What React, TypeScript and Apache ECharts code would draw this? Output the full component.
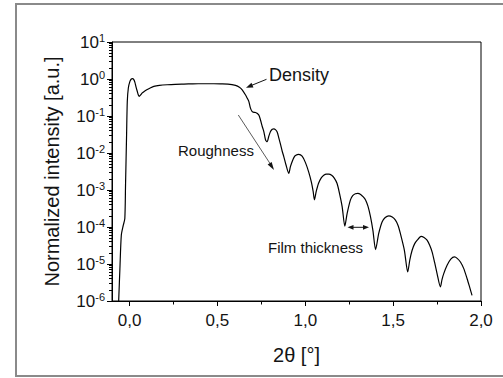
import React, { useEffect, useRef } from 'react';
import * as echarts from 'echarts';

// 2θ (degrees) and normalized intensity
const twoTheta = [
  -0.062, -0.055, -0.047, -0.036, -0.027, -0.023, -0.017, -0.013, -0.007, 0.002,
  0.010, 0.017, 0.024, 0.030, 0.037, 0.044, 0.050, 0.055, 0.063, 0.072,
  0.085, 0.101, 0.120, 0.138, 0.170, 0.214, 0.260, 0.309, 0.360, 0.420,
  0.480, 0.518, 0.560, 0.603, 0.625, 0.641, 0.660, 0.670, 0.679, 0.688,
  0.698, 0.708, 0.717, 0.735, 0.745, 0.755, 0.764, 0.774, 0.783, 0.792,
  0.802, 0.812, 0.821, 0.830, 0.840, 0.850, 0.859, 0.869, 0.878, 0.890,
  0.906, 0.915, 0.925, 0.935, 0.944, 0.963, 0.982, 1.001, 1.020, 1.035,
  1.045, 1.052, 1.062, 1.075, 1.090, 1.105, 1.120, 1.134, 1.150, 1.165,
  1.181, 1.195, 1.210, 1.225, 1.238, 1.257, 1.270, 1.285, 1.299, 1.315,
  1.330, 1.343, 1.357, 1.371, 1.385, 1.400, 1.418, 1.437, 1.455, 1.475,
  1.495, 1.513, 1.528, 1.541, 1.564, 1.583, 1.595, 1.608, 1.622, 1.637,
  1.659, 1.676, 1.693, 1.708, 1.722, 1.736, 1.750, 1.769, 1.778, 1.788,
  1.807, 1.828, 1.849, 1.866, 1.883, 1.902, 1.921, 1.935, 1.949,
];
const intensity = [
  1.0e-6, 7.5e-6, 6e-5, 1.1e-4, 1.7e-4, 1.35e-3, 0.031, 0.245, 0.57, 0.86,
  1.0, 1.02, 0.96, 0.82, 0.6, 0.46, 0.37, 0.34, 0.37, 0.42,
  0.47, 0.52, 0.58, 0.63, 0.67, 0.70, 0.72, 0.73, 0.74, 0.745,
  0.745, 0.74, 0.73, 0.67, 0.6, 0.51, 0.37, 0.3, 0.245, 0.163,
  0.131, 0.125, 0.124, 0.107, 0.078, 0.052, 0.038, 0.0225, 0.0202, 0.028,
  0.038, 0.044, 0.045, 0.043, 0.037, 0.025, 0.017, 0.011, 0.0079, 0.0048,
  0.0028, 0.0042, 0.0058, 0.0075, 0.0085, 0.0092, 0.0082, 0.0055, 0.0030, 0.0016,
  0.0009, 0.00054, 0.0009, 0.0015, 0.0021, 0.0025, 0.0027, 0.0027, 0.0025, 0.0021,
  0.0015, 0.0008, 0.00035, 0.000105, 2.3e-4, 5.4e-4, 7e-4, 7.9e-4, 8.1e-4, 7.6e-4,
  6.5e-4, 5.4e-4, 3.6e-4, 1.9e-4, 8e-5, 2.45e-5, 6.7e-5, 1.37e-4, 1.8e-4, 2.0e-4,
  1.85e-4, 1.53e-4, 1.1e-4, 6.7e-5, 2.35e-5, 6.1e-6, 1.3e-5, 2.35e-5, 3.5e-5, 4.4e-5,
  5.6e-5, 5.2e-5, 4.4e-5, 3.2e-5, 2.1e-5, 1.1e-5, 5.5e-6, 2.4e-6, 3.8e-6, 5.5e-6,
  9.2e-6, 1.35e-5, 1.55e-5, 1.4e-5, 1.13e-5, 7.5e-6, 4.0e-6, 2.4e-6, 1.42e-6,
];

const xLabelTicks = [0, 0.5, 1.0, 1.5, 2.0];
const xMinorTicks = [0.25, 0.75, 1.25, 1.75];
const decadeExponents = [-6, -5, -4, -3, -2, -1, 0];
const minorMultipliers = [2, 3, 4, 5, 6, 7, 8, 9];

const xTitle = '2θ [°]';
const yTitle = 'Normalized intensity [a.u.]';
const densityLabel = 'Density';
const roughnessLabel = 'Roughness';
const thicknessLabel = 'Film thickness';

const FONT = '"Liberation Sans", Arial, Helvetica, sans-serif';
const INK = '#141414';

function arrowHead(tipX: number, tipY: number, fromX: number, fromY: number, len: number, halfW: number) {
  const dx = tipX - fromX;
  const dy = tipY - fromY;
  const d = Math.hypot(dx, dy);
  const ux = dx / d;
  const uy = dy / d;
  const bx = tipX - ux * len;
  const by = tipY - uy * len;
  const px = -uy;
  const py = ux;
  return {
    type: 'polygon',
    silent: true,
    z: 100,
    shape: {
      points: [
        [tipX, tipY],
        [bx + px * halfW, by + py * halfW],
        [bx - px * halfW, by - py * halfW],
      ],
    },
    style: { fill: INK },
  };
}

export default function App() {
  const ref = useRef<HTMLDivElement>(null);

  useEffect(() => {
    if (!ref.current) return;
    const chart = echarts.init(ref.current, null, { renderer: 'svg' });

    const yMinor: number[] = [];
    decadeExponents.forEach((n) => {
      minorMultipliers.forEach((k) => yMinor.push(n + Math.log10(k)));
    });

    const data = twoTheta.map((x, i) => [x, intensity[i]]);

    const option: any = {
      animation: false,
      backgroundColor: '#ffffff',
      grid: {
        left: 112,
        right: 22,
        top: 42,
        bottom: 77,
        show: true,
        borderColor: '#000',
        borderWidth: 1,
        backgroundColor: 'transparent',
        containLabel: false,
        outerBoundsMode: 'none',
      },
      xAxis: [
        {
          type: 'value',
          min: -0.1,
          max: 2.0,
          position: 'bottom',
          name: xTitle,
          nameLocation: 'middle',
          nameGap: 44,
          nameTextStyle: { fontSize: 20, fontFamily: FONT, color: INK },
          axisLine: { show: true, onZero: false, lineStyle: { color: '#000', width: 1 } },
          axisTick: { show: true, length: 5, inside: false, customValues: xLabelTicks, lineStyle: { color: '#000' } },
          axisLabel: {
            show: true,
            customValues: xLabelTicks,
            margin: 11,
            fontSize: 17,
            fontFamily: FONT,
            color: INK,
            formatter: (v: number) => v.toFixed(1).replace('.', ','),
          },
          splitLine: { show: false },
        },
        {
          type: 'value',
          min: -0.1,
          max: 2.0,
          position: 'bottom',
          axisLine: { show: false, onZero: false },
          axisTick: { show: true, length: 3.5, inside: false, customValues: xMinorTicks, lineStyle: { color: '#000' } },
          axisLabel: { show: false },
          splitLine: { show: false },
        },
      ],
      yAxis: [
        {
          type: 'log',
          logBase: 10,
          min: 1e-6,
          max: 10,
          interval: 1,
          splitNumber: 7,
          position: 'left',
          name: yTitle,
          nameLocation: 'middle',
          nameGap: 50,
          nameTextStyle: { fontSize: 20, fontFamily: FONT, color: INK },
          axisLine: { show: true, onZero: false, lineStyle: { color: '#000', width: 1 } },
          axisTick: { show: true, length: 5, inside: false, lineStyle: { color: '#000' } },
          axisLabel: {
            show: true,
            margin: 7,
            formatter: (v: number) => `{b|10}{s|${Math.round(Math.log10(v))}}`,
            rich: {
              b: { fontSize: 17, fontFamily: FONT, color: INK, lineHeight: 20 },
              s: { fontSize: 11, fontFamily: FONT, color: INK, verticalAlign: 'top', lineHeight: 12 },
            },
          },
          splitLine: { show: false },
        },
        {
          type: 'value',
          min: -6,
          max: 1,
          position: 'left',
          axisLine: { show: false, onZero: false },
          axisTick: { show: true, length: 3, inside: false, customValues: yMinor, lineStyle: { color: '#000' } },
          axisLabel: { show: false },
          splitLine: { show: false },
        },
      ],
      series: [
        {
          type: 'line',
          xAxisIndex: 0,
          yAxisIndex: 0,
          data,
          showSymbol: false,
          smooth: 0.25,
          clip: true,
          lineStyle: { color: '#000', width: 1.2 },
        },
      ],
      graphic: [
        {
          type: 'rect',
          silent: true,
          shape: { x: 16, y: 4, width: 495, height: 372 },
          style: { fill: 'none', stroke: '#8a8a8a', lineWidth: 2 },
        },
        {
          type: 'text',
          silent: true,
          x: 269,
          y: 75,
          style: { text: densityLabel, fontSize: 18, fontFamily: FONT, fill: INK, align: 'left', verticalAlign: 'middle' },
        },
        {
          type: 'line',
          silent: true,
          shape: { x1: 266.5, y1: 79.3, x2: 250, y2: 86 },
          style: { stroke: INK, lineWidth: 1 },
        },
        arrowHead(246, 87.7, 266.5, 79.3, 7, 2.6),
        {
          type: 'text',
          silent: true,
          x: 178,
          y: 150,
          style: { text: roughnessLabel, fontSize: 15, fontFamily: FONT, fill: INK, align: 'left', verticalAlign: 'middle' },
        },
        {
          type: 'line',
          silent: true,
          shape: { x1: 238.3, y1: 115, x2: 271, y2: 165 },
          style: { stroke: INK, lineWidth: 0.7 },
        },
        arrowHead(274, 170, 238.3, 115, 8, 2.4),
        {
          type: 'text',
          silent: true,
          x: 268,
          y: 247,
          style: { text: thicknessLabel, fontSize: 15, fontFamily: FONT, fill: INK, align: 'left', verticalAlign: 'middle' },
        },
        {
          type: 'line',
          silent: true,
          shape: { x1: 352, y1: 227.3, x2: 364.5, y2: 227.3 },
          style: { stroke: INK, lineWidth: 1 },
        },
        arrowHead(347.5, 227.3, 358, 227.3, 6, 2.4),
        arrowHead(369, 227.3, 358, 227.3, 6, 2.4),
      ],
    };

    chart.setOption(option);
    return () => chart.dispose();
  }, []);

  return (
    <div
      ref={ref}
      style={{ position: 'absolute', left: 0, top: 0, width: 503, height: 378, background: '#fff' }}
    />
  );
}
